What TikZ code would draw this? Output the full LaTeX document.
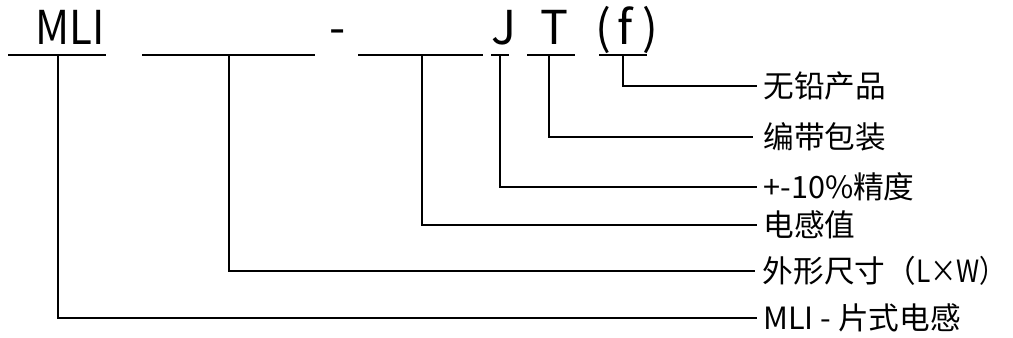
\documentclass[tikz,border=0pt]{standalone}
\usepackage{fontspec}
\setmainfont{Noto Sans CJK SC}
\begin{document}
\begin{tikzpicture}[x=0.75pt,y=-0.75pt,line width=1.5pt,
  lbl/.style={anchor=west,font=\fontsize{23}{23}\selectfont,inner xsep=4pt,inner ysep=0pt},
  toptxt/.style={anchor=base,font=\fontsize{35}{35}\selectfont,inner sep=0pt},
  gap/.style={shorten >=3pt}]
\useasboundingbox (0,0) rectangle (1013,338);
% top code text
\node[toptxt] (tMLI) at (70,45) {\scalebox{0.9}[1]{MLI}};
\node[toptxt] (tdash) at (338,45) {-};
\node[toptxt] (tJ) at (504,45) {J};
\node[toptxt] (tT) at (554,45) {T};
\node[toptxt] (tlp) at (603,45) {(};
\node[toptxt] (tf) at (625,45) {f};
\node[toptxt] (trp) at (650,45) {)};
% underlines
\draw (8,55) -- (106,55);
\draw (142,55) -- (315,55);
\draw (358,55) -- (483,55);
\draw (491,55) -- (509,55);
\draw (527,55) -- (575,55);
\draw (599,55) -- (647,55);
% tap points
\coordinate (u1) at (58,55);
\coordinate (u2) at (229,55);
\coordinate (u3) at (422,55);
\coordinate (u4) at (500,55);
\coordinate (u5) at (549,55);
\coordinate (u6) at (623,55);
% labels
\node[lbl] (l6) at (757,86) {无铅产品};
\node[lbl] (l5) at (757,137) {编带包装};
\node[lbl] (l4) at (757,187) {+-10\%精度};
\node[lbl] (l3) at (757,225) {电感值};
\node[lbl,inner xsep=2pt] (l2) at (759,271) {外形尺寸（\scalebox{0.86}[1]{L×W）}};
\node[lbl] (l1) at (757,318) {MLI - 片式电感};
% connectors
\draw (u6) |- (l6.west);
\draw[gap] (u5) |- (l5.west);
\draw (u4) |- (l4.west);
\draw (u3) |- (l3.west);
\draw[gap] (u2) |- (l2.west);
\draw (u1) |- (l1.west);
\end{tikzpicture}
\end{document}
